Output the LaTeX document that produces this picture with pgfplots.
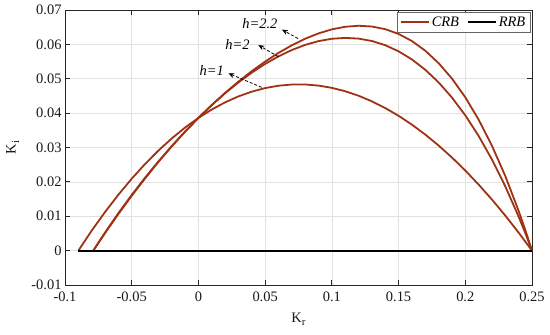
\documentclass[border=0pt]{standalone}
\usepackage{fontspec}
\setmainfont{Liberation Serif}
\usepackage{pgfplots}
\pgfplotsset{compat=1.18}
\usetikzlibrary{arrows.meta}
\definecolor{crb}{RGB}{160,50,20}
\definecolor{axcol}{RGB}{38,38,38}
\definecolor{gridcol}{RGB}{225,225,225}

\pgfplotstableread{
x y
-0.09 0
-0.08 0.005807
-0.07 0.011227
-0.06 0.016263
-0.05 0.020919
-0.04 0.025198
-0.03 0.029103
-0.02 0.032638
-0.01 0.035806
0.00 0.038610
0.01 0.041053
0.02 0.043139
0.03 0.044871
0.04 0.046252
0.05 0.047285
0.06 0.047974
0.07 0.048322
0.08 0.048332
0.09 0.048008
0.10 0.047353
0.11 0.046369
0.12 0.045061
0.13 0.043432
0.14 0.041484
0.15 0.039222
0.16 0.036648
0.17 0.033766
0.18 0.030578
0.19 0.027089
0.20 0.023302
0.21 0.019219
0.22 0.014844
0.23 0.010180
0.24 0.005231
0.25 0
}\hone

\pgfplotstableread{
x y
-0.0788 0
-0.07 0.005096
-0.06 0.010651
-0.05 0.015954
-0.04 0.021004
-0.03 0.025799
-0.02 0.030335
-0.01 0.034608
0.00 0.038612
0.01 0.042341
0.02 0.045786
0.03 0.048938
0.04 0.051785
0.05 0.054315
0.06 0.056513
0.07 0.058363
0.08 0.059847
0.09 0.060944
0.10 0.061632
0.11 0.061887
0.12 0.061680
0.13 0.060983
0.14 0.059765
0.15 0.057989
0.16 0.055621
0.17 0.052618
0.18 0.048940
0.19 0.044539
0.20 0.039367
0.21 0.033371
0.22 0.026498
0.23 0.018686
0.24 0.009876
0.245 0.005076
0.25 0
}\htwo

\pgfplotstableread{
x y
-0.0788 0
-0.07 0.005255
-0.06 0.010891
-0.05 0.016200
-0.04 0.021208
-0.03 0.025937
-0.02 0.030405
-0.01 0.034628
0.00 0.038612
0.01 0.042364
0.02 0.045884
0.03 0.049170
0.04 0.052212
0.05 0.054998
0.06 0.057512
0.07 0.059734
0.08 0.061637
0.09 0.063193
0.10 0.064368
0.11 0.065123
0.12 0.065416
0.13 0.065201
0.14 0.064425
0.15 0.063034
0.16 0.060969
0.17 0.058163
0.18 0.054551
0.19 0.050058
0.20 0.044608
0.21 0.038119
0.22 0.030506
0.23 0.021679
0.24 0.011543
0.245 0.005954
0.25 0
}\htwotwo

\begin{document}
\begin{tikzpicture}
\useasboundingbox (-65bp,-50bp) rectangle (485bp,285bp);
\begin{axis}[
  scale only axis, width=467bp, height=275bp,
  xmin=-0.1, xmax=0.25, ymin=-0.01, ymax=0.07,
  scaled x ticks=false, scaled y ticks=false,
  xtick={-0.1,-0.05,0,0.05,0.1,0.15,0.2,0.25},
  xticklabels={-0.1,-0.05,0,0.05,0.1,0.15,0.2,0.25},
  ytick={-0.01,0,0.01,0.02,0.03,0.04,0.05,0.06,0.07},
  yticklabels={-0.01,0,0.01,0.02,0.03,0.04,0.05,0.06,0.07},
  tick align=inside, major tick length=5bp,
  grid=major, grid style={gridcol, line width=0.6bp},
  axis line style={axcol, line width=0.8bp},
  tick style={axcol, line width=0.8bp},
  ticklabel style={font=\fontsize{14.5}{16}\selectfont, text=black!90},
  xticklabel style={yshift=-3bp},
  label style={font=\fontsize{14.5}{16}\selectfont, text=black!90},
  xlabel={K\raisebox{-0.55ex}{\fontsize{11}{12}\selectfont r}},
  ylabel={K\raisebox{-0.55ex}{\fontsize{11}{12}\selectfont i}},
  xlabel style={at={(axis description cs:0.5,-0.125)}, anchor=center},
  ylabel style={at={(axis description cs:-0.112,0.5)}, anchor=center},
  legend columns=2,
  legend style={at={(1,1)}, anchor=north east, xshift=-2bp, yshift=-2bp,
    draw=black!60, fill=white, inner sep=2.5bp,
    font=\fontsize{14.5}{16}\selectfont\itshape,
    /tikz/every even column/.append style={column sep=6bp}},
  legend image code/.code={\draw[#1] (0bp,0bp) -- (28bp,0bp);},
]
\addplot[crb, line width=1.8bp] table[x=x,y=y] {\hone};
\addlegendentry{CRB}
\addplot[crb, line width=1.8bp, forget plot] table[x=x,y=y] {\htwo};
\addplot[crb, line width=1.8bp, forget plot] table[x=x,y=y] {\htwotwo};
\addplot[black, line width=1.8bp] coordinates {(-0.09,0) (0.25,0)};
\addlegendentry{RRB}

\draw[black, densely dashed, line width=0.8bp, -{Stealth[length=6bp,width=5bp]}]
  (axis cs:0.0746,0.0617) -- (axis cs:0.0626,0.0643);
\draw[black, densely dashed, line width=0.8bp, -{Stealth[length=6bp,width=5bp]}]
  (axis cs:0.0599,0.0564) -- (axis cs:0.0449,0.0598);
\draw[black, densely dashed, line width=0.8bp, -{Stealth[length=6bp,width=5bp]}]
  (axis cs:0.0474,0.0475) -- (axis cs:0.0224,0.0516);
\node[font=\fontsize{14.5}{16}\selectfont\itshape] at (axis cs:0.0461,0.0661) {h=2.2};
\node[font=\fontsize{14.5}{16}\selectfont\itshape] at (axis cs:0.0293,0.0601) {h=2};
\node[font=\fontsize{14.5}{16}\selectfont\itshape] at (axis cs:0.0099,0.0524) {h=1};
\end{axis}
\end{tikzpicture}
\end{document}
